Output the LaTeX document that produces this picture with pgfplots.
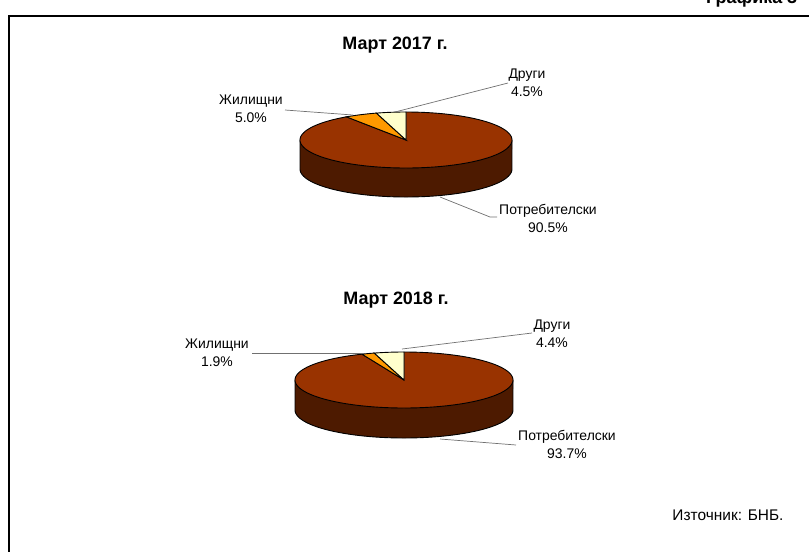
\documentclass[border=0pt]{standalone}
\usepackage{pgfplots}
\pgfplotsset{compat=1.18}
\usepackage{pgfplotstable}
\usepackage{fontspec}
\setmainfont{Liberation Sans}
\definecolor{brownTop}{HTML}{993300}
\definecolor{brownSide}{HTML}{4D1A00}
\definecolor{orangeS}{HTML}{FF9900}
\definecolor{creamS}{HTML}{FFFFCC}
\definecolor{leader}{HTML}{707070}

% shares (%): 1 = Потребителски, 2 = Жилищни, 3 = Други
\pgfplotstableread{
cat value
1 90.5
2 5.0
3 4.5
}\pieA
\pgfplotstableread{
cat value
1 93.7
2 1.9
3 4.4
}\pieB

% #1 table, #2 cx, #3 cy, #4 rx, #5 ry, #6 depth
\newcommand{\drawpie}[6]{%
  \pgfplotstablegetelem{0}{value}\of#1\pgfmathsetmacro{\va}{\pgfplotsretval}%
  \pgfplotstablegetelem{1}{value}\of#1\pgfmathsetmacro{\vb}{\pgfplotsretval}%
  \pgfmathsetmacro{\angA}{90-3.6*\va}%
  \pgfmathsetmacro{\angB}{90-3.6*(\va+\vb)}%
  \pgfmathsetmacro{\xl}{#2-#4}%
  \pgfmathsetmacro{\xr}{#2+#4}%
  \pgfmathsetmacro{\yb}{#3+#6}%
  \edef\cmd{\noexpand\addplot[fill=brownSide, draw=black, line width=0.9bp, domain=180:360, samples=100]
     ({#2+#4*cos(x)},{\yb-#5*sin(x)}) -- (axis cs:\xr,#3) -- (axis cs:\xl,#3) -- cycle;}\cmd
  \edef\cmd{\noexpand\addplot[fill=brownTop, draw=black, line width=0.9bp, domain=\angA:90, samples=160]
     ({#2+#4*cos(x)},{#3-#5*sin(x)}) -- (axis cs:#2,#3) -- cycle;}\cmd
  \edef\cmd{\noexpand\addplot[fill=orangeS, draw=black, line width=0.9bp, domain=\angB:\angA, samples=20]
     ({#2+#4*cos(x)},{#3-#5*sin(x)}) -- (axis cs:#2,#3) -- cycle;}\cmd
  \edef\cmd{\noexpand\addplot[fill=creamS, draw=black, line width=0.9bp, domain=-270:\angB, samples=20]
     ({#2+#4*cos(x)},{#3-#5*sin(x)}) -- (axis cs:#2,#3) -- cycle;}\cmd
}

\begin{document}
\begin{tikzpicture}
\useasboundingbox (0,0) rectangle (809bp,552bp);
\begin{axis}[at={(0,0)}, anchor=south west, x=1bp, y=1bp,
  xmin=0, xmax=809, ymin=0, ymax=552, y dir=reverse, hide axis]

% frame
\addplot[black, line width=2bp] coordinates {(9.3,600) (9.3,16) (850,16)};

% pies
\drawpie{\pieA}{406}{140}{106}{28}{29}
\drawpie{\pieB}{404}{380}{109}{28}{30}

% leader lines
\addplot[leader, line width=0.7bp] coordinates {(285,110) (353,115)};
\addplot[leader, line width=0.7bp] coordinates {(508,83) (395,112)};
\addplot[leader, line width=0.7bp] coordinates {(440,197) (490,217) (497,217)};
\addplot[leader, line width=0.7bp] coordinates {(252,353) (364,353)};
\addplot[leader, line width=0.7bp] coordinates {(532,333) (402,349)};
\addplot[leader, line width=0.7bp] coordinates {(440,439) (516,445)};

% titles
\node[font=\bfseries\fontsize{18}{21}\selectfont] at (axis cs:395,45) {Март 2017 г.};
\node[font=\bfseries\fontsize{18}{21}\selectfont] at (axis cs:396,300) {Март 2018 г.};

% labels
\begin{scope}[every node/.style={font=\fontsize{14}{18}\selectfont, align=center}]
\node at (axis cs:251,109) {Жилищни\\5.0\%};
\node at (axis cs:527,83) {Други\\4.5\%};
\node at (axis cs:548,218) {Потребителски\\90.5\%};
\node at (axis cs:217,353) {Жилищни\\1.9\%};
\node at (axis cs:552,334) {Други\\4.4\%};
\node at (axis cs:567,444) {Потребителски\\93.7\%};
\end{scope}
\node[font=\fontsize{15.5}{18}\selectfont] at (axis cs:728,515) {Източник: БНБ.};

% cropped heading at the top edge
\node[font=\bfseries\fontsize{18}{21}\selectfont, anchor=base west, inner sep=0pt] at (axis cs:706,3) {Графика 3};
\end{axis}
\end{tikzpicture}
\end{document}
